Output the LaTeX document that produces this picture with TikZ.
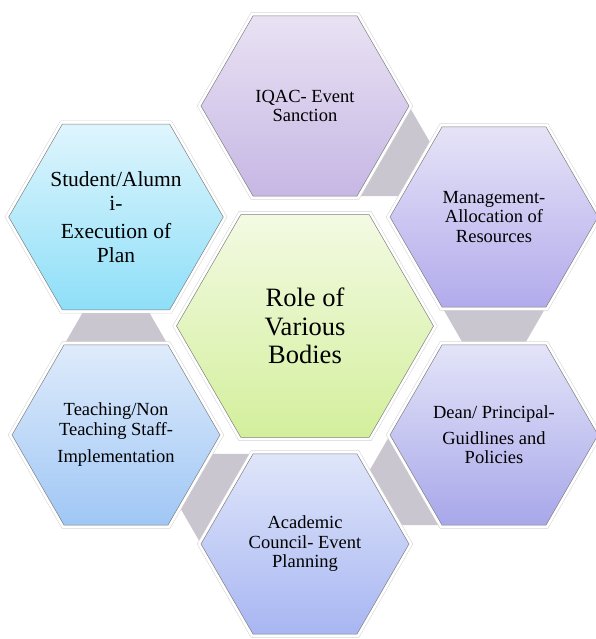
\documentclass[tikz,border=0pt]{standalone}
\usepackage{fontspec}
\setmainfont{Liberation Serif}
\newfontfamily\hexfont{Liberation Serif}
\usetikzlibrary{shapes.geometric,calc,backgrounds}

\definecolor{roletop}{RGB}{243,250,227}
\definecolor{rolebot}{RGB}{211,239,156}
\definecolor{iqactop}{RGB}{233,226,243}
\definecolor{iqacbot}{RGB}{198,183,228}
\definecolor{mgmttop}{RGB}{230,227,247}
\definecolor{mgmtbot}{RGB}{178,171,236}
\definecolor{deantop}{RGB}{227,228,248}
\definecolor{deanbot}{RGB}{168,167,234}
\definecolor{acadtop}{RGB}{223,230,250}
\definecolor{acadbot}{RGB}{168,182,242}
\definecolor{teachtop}{RGB}{222,235,251}
\definecolor{teachbot}{RGB}{160,199,245}
\definecolor{studtop}{RGB}{223,245,253}
\definecolor{studbot}{RGB}{142,223,248}
\definecolor{linkgray}{RGB}{202,198,208}

\begin{document}
\begin{tikzpicture}[x=1pt,y=1pt,
    hexbase/.style={regular polygon, regular polygon sides=6, inner sep=0pt, outer sep=0pt,
      align=center, draw=black!50, line width=0.5pt, text=black,
      preaction={draw=black!18, line width=7pt},
      preaction={draw=white, line width=6pt}},
    outerhex/.style={hexbase, minimum size=208pt, font=\hexfont\fontsize{18.5}{19.5}\selectfont},
    linktri/.style={fill=linkgray}]
        \useasboundingbox (0,0) rectangle (595,639);

        % Hexagons
        \node[hexbase, minimum size=257pt, top color=roletop, bottom color=rolebot,
              font=\hexfont\fontsize{26.5}{28.5}\selectfont] (role) at (305,313) {Role of\\Various\\Bodies};
        \node[outerhex, top color=iqactop, bottom color=iqacbot] (iqac) at (305,533) {IQAC- Event\\Sanction};
        \node[outerhex, top color=mgmttop, bottom color=mgmtbot] (mgmt) at (494,422) {Management-\\Allocation of\\Resources};
        \node[outerhex, top color=deantop, bottom color=deanbot] (dean) at (494,204) {Dean/ Principal-\\[6pt]Guidlines and\\Policies};
        \node[outerhex, top color=acadtop, bottom color=acadbot] (acad) at (305,95) {Academic\\Council- Event\\Planning};
        \node[outerhex, top color=teachtop, bottom color=teachbot] (teach) at (116,204) {Teaching/Non\\Teaching Staff-\\[8pt]Implementation};
        \node[outerhex, top color=studtop, bottom color=studbot,
              font=\hexfont\fontsize{21.5}{24}\selectfont] (stud) at (116,422) {Student/Alumn\\i-\\[4pt]Execution of\\Plan};

        % Links
        \begin{scope}[on background layer]
            \fill[linktri] (iqac.0) -- (iqac.300) -- ($(iqac.0)+(-60:104)$) -- cycle;
            \fill[linktri] (mgmt.240) -- (mgmt.300) -- ($(mgmt.240)+(-60:104)$) -- cycle;
            \fill[linktri] (dean.180) -- (dean.240) -- ($(dean.180)+(240:104)$) -- cycle;
            \fill[linktri] (acad.120) -- (acad.180) -- ($(acad.120)+(180:104)$) -- cycle;
            \fill[linktri] (teach.60) -- (teach.120) -- ($(teach.120)+(60:104)$) -- cycle;
        \end{scope}
    \end{tikzpicture}
\end{document}
